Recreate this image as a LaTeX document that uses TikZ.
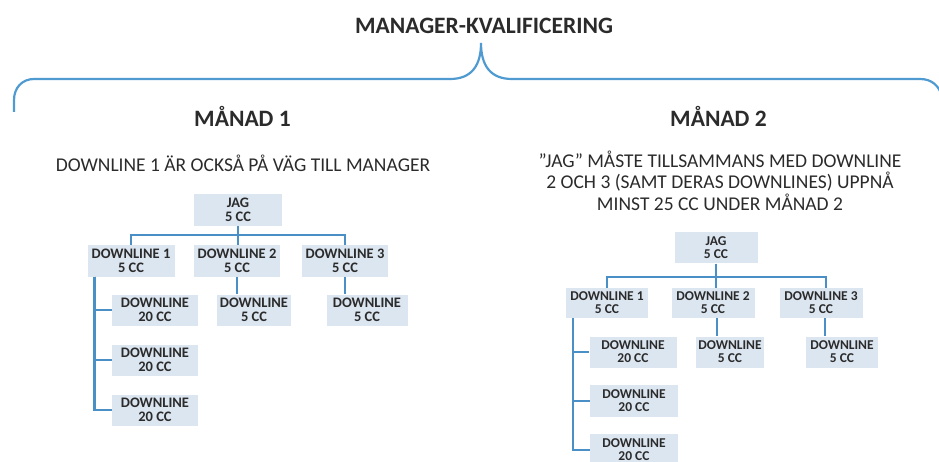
\documentclass[tikz,border=0pt]{standalone}
\usepackage{fontspec}
\setmainfont{Carlito}
\usetikzlibrary{calc}
\definecolor{boxfill}{HTML}{DCE6F1}
\definecolor{linec}{HTML}{4A8FC6}
\definecolor{bracec}{HTML}{4F9BD1}
\definecolor{txt}{HTML}{2B2B2B}
\tikzset{
  x=1pt,y=-1pt,
  box/.style={fill=boxfill,inner sep=0pt,align=center,text=txt,
    font=\bfseries\fontsize{14.5}{13.5}\selectfont,minimum height=31pt},
  boxr/.style={box,font=\bfseries\fontsize{13.5}{13}\selectfont},
  conn/.style={draw=linec,line width=2.6pt},
  head/.style={text=txt,font=\bfseries\fontsize{23.5}{26}\selectfont},
  instr/.style={text=txt,align=center,font=\fontsize{19.5}{21.5}\selectfont},
}
\begin{document}
\begin{tikzpicture}
\useasboundingbox (0,0) rectangle (939,462);
\clip (0,0) rectangle (939,462);
% headings
\node[head] (title) at (484,26) {MANAGER-KVALIFICERING};
\draw[draw=bracec,line width=2.2pt]
  (14,112) -- (14,100) .. controls (14,88) and (22,79) .. (34,79) -- (450,79)
  .. controls (472,79) and (481,65) .. (481,43)
  .. controls (481,65) and (490,79) .. (512,79) -- (920,79)
  .. controls (932,79) and (939,86) .. (942,96);
\node[head] (m1) at (242.5,116) {MÅNAD 1};
\node[head] (m2) at (718.5,116) {MÅNAD 2};
\node[instr] (i1) at (243,163) {DOWNLINE 1 ÄR OCKSÅ PÅ VÄG TILL MANAGER};
\node[instr] (i2) at (720,180.5) {”JAG” MÅSTE TILLSAMMANS MED DOWNLINE\\2 OCH 3 (SAMT DERAS DOWNLINES) UPPNÅ\\MINST 25 CC UNDER MÅNAD 2};
% left tree
\node[box,minimum width=88pt,minimum height=32pt] (jagL) at (238,210) {JAG\\5 CC};
\node[box,minimum width=87pt,minimum height=31pt] (d1L) at (131,261) {DOWNLINE 1\\5 CC};
\node[box,minimum width=86pt,minimum height=31pt] (d2L) at (237,261) {DOWNLINE 2\\5 CC};
\node[box,minimum width=86pt,minimum height=31pt] (d3L) at (345,261) {DOWNLINE 3\\5 CC};
\node[box,minimum width=86pt] (s1L) at (155,310) {DOWNLINE\\20 CC};
\node[box,minimum width=86pt] (s2L) at (155,360) {DOWNLINE\\20 CC};
\node[box,minimum width=86pt] (s3L) at (155,410) {DOWNLINE\\20 CC};
\node[box,minimum width=74pt] (t2L) at (254,310) {DOWNLINE\\5 CC};
\node[box,minimum width=81pt] (t3L) at (367,310) {DOWNLINE\\5 CC};
\coordinate (barL) at (238,235);
\draw[conn] (jagL.south) -- (barL);
\draw[conn] (barL) -| (d1L.north);
\draw[conn] (barL) -| (d3L.north);
\draw[conn] (barL) -- (barL |- d2L.north);
\draw[conn] ([xshift=7pt]d1L.south west) |- (s3L.west);
\draw[conn] ([xshift=7pt]d1L.south west) |- (s1L.west);
\draw[conn] ([xshift=7pt]d1L.south west) |- (s2L.west);
\draw[conn] (d2L.south) -- (d2L.south |- t2L.north);
\draw[conn] (d3L.south) -- (d3L.south |- t3L.north);
% right tree
\node[boxr,minimum width=83pt,minimum height=31pt] (jagR) at (716,248) {JAG\\5 CC};
\node[boxr,minimum width=82pt,minimum height=30pt] (d1R) at (607,303) {DOWNLINE 1\\5 CC};
\node[boxr,minimum width=83pt,minimum height=30pt] (d2R) at (713,303) {DOWNLINE 2\\5 CC};
\node[boxr,minimum width=83pt,minimum height=30pt] (d3R) at (821,303) {DOWNLINE 3\\5 CC};
\node[boxr,minimum width=87pt] (s1R) at (633,352) {DOWNLINE\\20 CC};
\node[boxr,minimum width=88pt,minimum height=32pt] (s2R) at (634,401) {DOWNLINE\\20 CC};
\node[boxr,minimum width=88pt,minimum height=32pt] (s3R) at (634,450) {DOWNLINE\\20 CC};
\node[boxr,minimum width=68pt] (t2R) at (730,352) {DOWNLINE\\5 CC};
\node[boxr,minimum width=72pt] (t3R) at (842,352) {DOWNLINE\\5 CC};
\coordinate (barR) at (716,277);
\draw[conn] (jagR.south) -- (barR);
\draw[conn] (barR) -| (d1R.north);
\draw[conn] (barR) -| ([xshift=5pt]d3R.north);
\draw[conn] (barR) -- (barR |- d2R.north);
\draw[conn] ([xshift=7pt]d1R.south west) |- (s3R.west);
\draw[conn] ([xshift=7pt]d1R.south west) |- (s1R.west);
\draw[conn] ([xshift=7pt]d1R.south west) |- (s2R.west);
\draw[conn] ([xshift=4pt]d2R.south) -- ([xshift=4pt]d2R.south |- t2R.north);
\draw[conn] ([xshift=4pt]d3R.south) -- ([xshift=4pt]d3R.south |- t3R.north);
\end{tikzpicture}
\end{document}
